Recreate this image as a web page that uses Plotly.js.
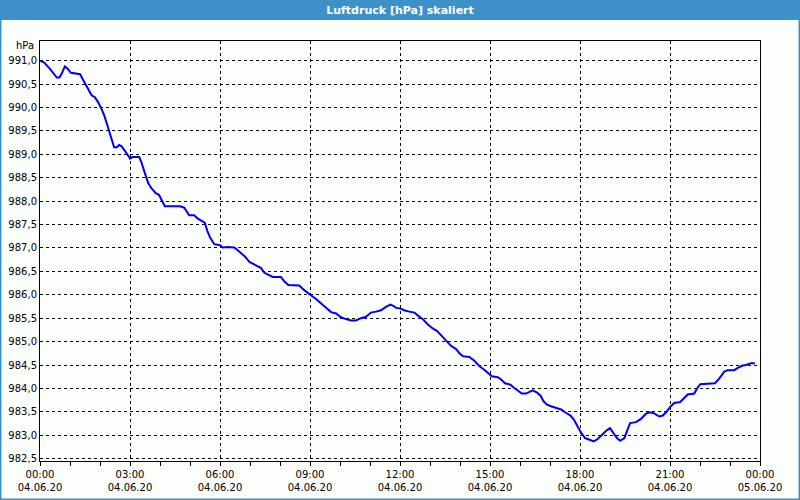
<!DOCTYPE html>
<html>
<head>
<meta charset="utf-8">
<script src="https://cdn.plot.ly/plotly-3.0.1.min.js"></script>
<style>
  html, body { margin: 0; padding: 0; background: #fcfefc; }
  #chart { width: 800px; height: 500px; }
</style>
</head>
<body>
<div id="chart"></div>
<script>
// Hours since 04.06.20 00:00
const hours = [
  0.0, 0.14, 0.31, 0.47, 0.56, 0.65, 0.72, 0.83, 0.92, 1.03, 1.34, 1.42, 1.53, 1.64, 1.72, 1.83, 1.94,
  2.05, 2.14, 2.25, 2.36, 2.47, 2.56, 2.64, 2.72, 2.83, 2.92, 3.0, 3.08, 3.31, 3.38, 3.49, 3.61, 3.72,
  3.86, 3.97, 4.05, 4.16, 4.67, 4.81, 4.97, 5.14, 5.25, 5.42, 5.49, 5.58, 5.67, 5.81, 6.0,
  6.09, 6.23, 6.48, 6.59, 6.70, 6.83, 6.98, 7.09, 7.23, 7.37, 7.48, 7.61, 7.76, 8.03, 8.14, 8.28, 8.64,
  8.79, 8.92, 9.03, 9.20, 9.31, 9.48, 9.70, 9.87, 10.03, 10.2, 10.37, 10.53, 10.70, 10.87, 11.03, 11.2,
  11.37, 11.53, 11.68, 11.79, 11.87, 12.0,
  12.14, 12.31, 12.48, 12.61, 12.76, 12.92, 13.09, 13.23, 13.39, 13.53, 13.70, 13.87, 13.98, 14.09, 14.31,
  14.48, 14.64, 14.83, 14.98, 15.06, 15.26, 15.37, 15.5, 15.68, 15.81, 15.94, 16.06, 16.2, 16.31, 16.42,
  16.57, 16.68, 16.78, 16.89, 17.03, 17.2, 17.37, 17.53, 17.68, 17.79, 17.92, 18.03,
  18.17, 18.31, 18.46, 18.59, 18.76, 18.9, 19.0, 19.09, 19.23, 19.34, 19.48, 19.57, 19.67, 19.87, 20.03,
  20.2, 20.31, 20.46, 20.64, 20.76, 20.87, 21.0, 21.14, 21.34, 21.46, 21.59, 21.81, 21.9, 22.01, 22.2,
  22.5, 22.64, 22.81, 22.92, 23.14, 23.26, 23.42, 23.53, 23.70, 23.83
];
// Air pressure in hPa
const pressure = [
  991.00, 990.96, 990.84, 990.70, 990.64, 990.64, 990.72, 990.88, 990.83, 990.74, 990.71, 990.61, 990.47, 990.33, 990.26, 990.22, 990.11,
  989.97, 989.83, 989.61, 989.36, 989.15, 989.15, 989.20, 989.17, 989.08, 988.99, 988.91, 988.94, 988.94, 988.83, 988.61, 988.38, 988.27,
  988.17, 988.13, 988.03, 987.89, 987.89, 987.86, 987.70, 987.70, 987.63, 987.56, 987.54, 987.36, 987.22, 987.08, 987.06,
  987.01, 987.02, 987.01, 986.95, 986.89, 986.82, 986.70, 986.66, 986.62, 986.57, 986.47, 986.42, 986.38, 986.38, 986.29, 986.21, 986.20,
  986.11, 986.04, 985.99, 985.91, 985.85, 985.74, 985.63, 985.60, 985.52, 985.48, 985.45, 985.45, 985.50, 985.53, 985.62, 985.64,
  985.67, 985.74, 985.79, 985.76, 985.72, 985.71,
  985.67, 985.64, 985.62, 985.55, 985.48, 985.37, 985.28, 985.23, 985.12, 985.01, 984.91, 984.84, 984.75, 984.69, 984.67,
  984.59, 984.48, 984.39, 984.30, 984.26, 984.24, 984.19, 984.11, 984.08, 984.01, 983.94, 983.89, 983.89, 983.93, 983.96,
  983.91, 983.85, 983.73, 983.66, 983.62, 983.59, 983.55, 983.48, 983.42, 983.34, 983.19, 983.06,
  982.94, 982.90, 982.87, 982.92, 983.03, 983.11, 983.15, 983.06, 982.94, 982.88, 982.94, 983.10, 983.26, 983.28, 983.35,
  983.46, 983.49, 983.47, 983.40, 983.42, 983.49, 983.60, 983.69, 983.71, 983.79, 983.87, 983.89, 984.00, 984.09, 984.10,
  984.11, 984.21, 984.36, 984.39, 984.39, 984.44, 984.49, 984.50, 984.54, 984.54
];
const tickHours = [0, 3, 6, 9, 12, 15, 18, 21, 24];
const tickTimes = ['00:00', '03:00', '06:00', '09:00', '12:00', '15:00', '18:00', '21:00', '00:00'];
const tickDates = ['04.06.20', '04.06.20', '04.06.20', '04.06.20', '04.06.20', '04.06.20', '04.06.20', '04.06.20', '05.06.20'];
const titleText = 'Luftdruck [hPa] skaliert';
const unitText = 'hPa';

const PL = 40, PT = 41, PW = 720, PH = 420, W = 800, H = 500;
const px = v => (v - PL) / PW;
const py = v => (PT + PH - v) / PH;
const blue = '#3d91c8';
const font = { family: 'DejaVu Sans', size: 10, color: '#000' };

const trace = {
  x: hours, y: pressure, type: 'scatter', mode: 'lines',
  line: { color: '#0000ee', width: 2 }, hoverinfo: 'skip'
};

const layout = {
  width: W, height: H,
  margin: { l: PL, r: W - PL - PW, t: PT, b: H - PT - PH, pad: 0 },
  paper_bgcolor: '#fcfefc', plot_bgcolor: '#fcfefc',
  separators: ',.',
  font: font,
  showlegend: false,
  title: {
    text: titleText, xref: 'container', yref: 'container', x: 0.5, y: 1 - 10 / H,
    xanchor: 'center', yanchor: 'middle',
    font: { family: 'DejaVu Sans', size: 11, color: '#fff', weight: 'bold' }
  },
  xaxis: {
    range: [0, 24], tickmode: 'array', tickvals: tickHours,
    ticktext: tickTimes.map((t, i) => t + '<br>' + tickDates[i]),
    ticks: 'outside', ticklen: 4, tickcolor: '#000', tickwidth: 1,
    showgrid: true, gridcolor: '#000', gridwidth: 1, griddash: '3px,3px',
    showline: true, mirror: true, linecolor: '#000', linewidth: 1, zeroline: false,
    minor: { tick0: 0, dtick: 1, ticks: 'outside', ticklen: 4, tickcolor: '#000', showgrid: false },
    tickfont: font, fixedrange: true
  },
  yaxis: {
    range: [982.45, 991.42], tick0: 982.5, dtick: 0.5, tickformat: '.1f',
    ticks: '', showgrid: true, gridcolor: '#000', gridwidth: 1, griddash: '3px,3px',
    showline: true, mirror: true, linecolor: '#000', linewidth: 1, zeroline: false,
    tickfont: font, fixedrange: true
  },
  shapes: [
    { type: 'rect', xref: 'paper', yref: 'paper', x0: px(0), x1: px(W), y0: py(20), y1: py(0),
      fillcolor: blue, line: { width: 0 }, layer: 'below' },
    { type: 'rect', xref: 'paper', yref: 'paper', x0: px(0), x1: px(W), y0: py(H), y1: py(0),
      fillcolor: 'rgba(0,0,0,0)', line: { color: blue, width: 3 }, layer: 'above' }
  ],
  annotations: [
    { text: unitText, xref: 'paper', yref: 'y', x: 0, y: 991.32, xanchor: 'right', yanchor: 'middle',
      xshift: -4, showarrow: false, font: font }
  ]
};

Plotly.newPlot('chart', [trace], layout, { displayModeBar: false, staticPlot: true });
</script>
</body>
</html>
